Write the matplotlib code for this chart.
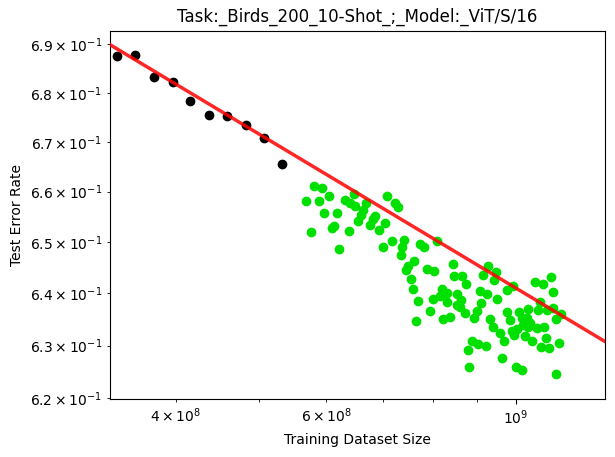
import numpy as np
import matplotlib
matplotlib.use("Agg")
import matplotlib.pyplot as plt

# dataset sizes in millions, error rates
black_size_m = [340.9, 358.4, 377.3, 396.5, 415.4, 437.2, 459.4, 483.1, 507.6, 532.4]
black_err = [0.6876, 0.6877, 0.6833, 0.6821, 0.6784, 0.6755, 0.6752, 0.6734, 0.6708, 0.6656]

green_size_m = [
    568.0, 580.4, 593.1, 588.3, 604.8, 575.7, 597.1, 618.0, 609.3, 613.4,
    621.4, 631.0, 646.5, 639.6, 648.8, 638.4, 667.8, 662.4, 658.3, 653.5,
    684.2, 680.0, 703.0, 675.1, 691.6, 706.2, 722.2, 728.0, 715.4, 699.7,
    739.9, 736.9, 733.0, 772.6, 781.0, 809.5, 760.2, 748.6, 744.9, 786.2,
    802.3, 753.4, 757.1, 818.7, 843.3, 768.8, 794.1, 764.7, 799.1, 815.4,
    830.3, 831.6, 853.2, 862.9, 853.6, 859.4, 872.2, 822.0, 837.7, 846.7,
    864.5, 875.3, 915.6, 928.8, 949.1, 943.2, 908.3, 924.8, 911.5, 951.6,
    900.2, 893.0, 993.6, 976.8, 1053.5, 1075.0, 1100.8, 1105.9, 1066.4, 976.0,
    984.0, 1009.0, 1034.6, 1060.6, 1087.3, 1104.4, 1129.4, 1113.4, 933.1, 940.6,
    958.6, 969.0, 1016.4, 1030.2, 1039.4, 1020.8, 1033.0, 1059.8, 1080.0, 989.3,
    1002.8, 996.3, 1025.5, 1044.2, 1086.1, 1071.3, 1092.6, 1124.9, 888.2, 904.1,
    923.1, 880.0, 964.5, 882.4, 1001.7, 1016.4, 1114.9,
]
green_err = [
    0.6582, 0.6611, 0.6607, 0.6581, 0.6591, 0.6520, 0.6557, 0.6557, 0.6527, 0.6532,
    0.6486, 0.6584, 0.6595, 0.6577, 0.6571, 0.6522, 0.6578, 0.6563, 0.6553, 0.6542,
    0.6552, 0.6545, 0.6538, 0.6533, 0.6523, 0.6591, 0.6578, 0.6569, 0.6502, 0.6490,
    0.6505, 0.6490, 0.6474, 0.6496, 0.6490, 0.6502, 0.6462, 0.6453, 0.6446, 0.6447,
    0.6443, 0.6427, 0.6408, 0.6408, 0.6457, 0.6386, 0.6366, 0.6346, 0.6390, 0.6394,
    0.6400, 0.6384, 0.6398, 0.6388, 0.6378, 0.6374, 0.6362, 0.6351, 0.6354, 0.6434,
    0.6433, 0.6418, 0.6436, 0.6453, 0.6442, 0.6425, 0.6404, 0.6399, 0.6381, 0.6389,
    0.6366, 0.6352, 0.6414, 0.6406, 0.6423, 0.6419, 0.6432, 0.6402, 0.6384, 0.6364,
    0.6349, 0.6365, 0.6369, 0.6368, 0.6367, 0.6371, 0.6361, 0.6350, 0.6350, 0.6335,
    0.6323, 0.6308, 0.6352, 0.6352, 0.6343, 0.6340, 0.6336, 0.6333, 0.6335, 0.6328,
    0.6332, 0.6320, 0.6319, 0.6308, 0.6314, 0.6297, 0.6295, 0.6304, 0.6309, 0.6302,
    0.6300, 0.6292, 0.6276, 0.6259, 0.6259, 0.6253, 0.6246,
]

# fitted power law, given by its two ends at the axis edges
fit_size_m = [334.4, 1274.0]
fit_err = [0.6900, 0.6307]

fig = plt.figure(figsize=(6.15, 4.57), dpi=100)
ax = fig.add_axes([0.17805, 0.12691, 0.8065, 0.80635])

ax.scatter(np.array(black_size_m) * 1e6, black_err, color="black", s=36, zorder=2)
ax.scatter(np.array(green_size_m) * 1e6, green_err, color="#00e000", s=36, zorder=2)
ax.plot(np.array(fit_size_m) * 1e6, fit_err, color="red", alpha=0.85, linewidth=2.5, zorder=3)

ax.set_xscale("log")
ax.set_yscale("log")
ax.set_xlim(334.4e6, 1274e6)
ax.set_ylim(0.6199, 0.6929)

ax.set_title("Task:_Birds_200_10-Shot_;_Model:_ViT/S/16")
ax.set_xlabel("Training Dataset Size")
ax.set_ylabel("Test Error Rate")

fig.savefig("out.png", dpi=100)
